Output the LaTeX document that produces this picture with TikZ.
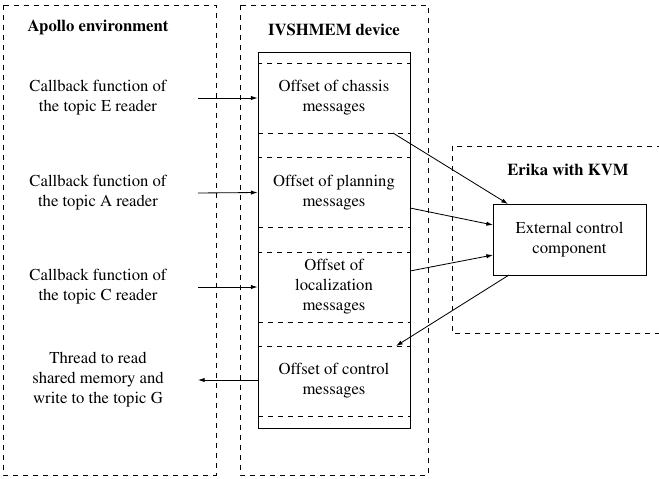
\documentclass[tikz,border=0pt]{standalone}
\usepackage[T1]{fontenc}
\usepackage{times}
\usetikzlibrary{arrows.meta}
\begin{document}
\begin{tikzpicture}[x=0.6pt,y=-0.6pt,
  region/.style={draw,dashed,line width=0.5pt},
  slotbox/.style={draw,dashed,line width=0.5pt,minimum width=152*0.6pt,minimum height=70*0.6pt,inner sep=0pt,align=center},
  lbl/.style={align=center,font=\fontsize{10}{12}\selectfont},
  title/.style={font=\fontsize{10}{12}\selectfont\bfseries},
  conn/.style={line width=0.5pt,-{Latex[length=4pt,width=2.6pt]}}]
\useasboundingbox (0,0) rectangle (659,479);
% regions
\draw[region] (3,5) rectangle (216,475);
\draw[region] (240,5) rectangle (428,475);
\draw[region] (452,146) rectangle (665,333);
% titles
\node[title] (tap) at (98,27) {Apollo environment};
\node[title] (tiv) at (334,30) {IVSHMEM device};
\node[title] (ter) at (568,170) {Erika with KVM};
% memory slots
\node[slotbox,lbl] (chassis) at (334,98) {Offset of chassis\\messages};
\node[slotbox,lbl] (planning) at (334,192.5) {Offset of planning\\messages};
\node[slotbox,lbl] (local) at (334,287) {Offset of\\localization\\messages};
\node[slotbox,lbl] (control) at (334,381) {Offset of control\\messages};
\draw[line width=0.6pt] (258,52) rectangle (410,428);
% Apollo texts
\node[lbl] (cbE) at (98,98) {Callback function of\\the topic E reader};
\node[lbl] (cbA) at (98,193) {Callback function of\\the topic A reader};
\node[lbl] (cbC) at (98,287) {Callback function of\\the topic C reader};
\node[lbl] (thr) at (98,380) {Thread to read\\shared memory and\\write to the topic G};
% external control component
\node[draw,line width=0.6pt,lbl,minimum width=153*0.6pt,minimum height=71*0.6pt,inner sep=0pt] (ecc) at (569.5,239.5) {External control\\component};
% connector end points
\coordinate (sE) at (198,98);
\coordinate (sA) at (198,193);
\coordinate (sC) at (198,287);
\coordinate (sG) at (198,380);
\coordinate (chOut) at (393,133);
\coordinate (plOut) at (410,208);
\coordinate (loOut) at (410,271);
\coordinate (ctIn) at (396,346);
\coordinate (eTop) at (508,204);
\coordinate (eL1) at (493,225);
\coordinate (eL2) at (493,255);
\coordinate (eBot) at (509,275);
% connectors
\draw[conn] (sE) -- (chassis.west);
\draw[conn] (sA) -- (planning.west);
\draw[conn] (sC) -- (local.west);
\draw[conn] (control.west |- sG) -- (sG);
\draw[conn] (chOut) -- (eTop);
\draw[conn] (plOut) -- (eL1);
\draw[conn] (loOut) -- (eL2);
\draw[conn] (eBot) -- (ctIn);
\end{tikzpicture}
\end{document}
